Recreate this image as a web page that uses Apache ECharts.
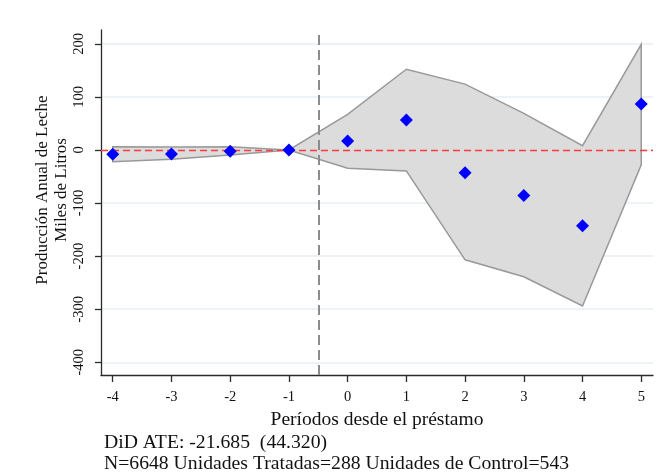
<!DOCTYPE html>
<html>
<head>
<meta charset="utf-8">
<script src="https://cdn.jsdelivr.net/npm/echarts@6/dist/echarts.min.js"></script>
<style>
    html, body { margin: 0; padding: 0; background: #fff; }
    #eventStudyChart { width: 662px; height: 474px; }
</style>
</head>
<body>
<div id="eventStudyChart"></div>
<script>
// values
const periods = [-4, -3, -2, -1, 0, 1, 2, 3, 4, 5]
const coef = [-8, -7.5, -2.5, 0, 17, 56.5, -43, -86, -143, 86.5]
const ciUpper = [6, 5.5, 6, 0, 67, 152, 124, 69, 8, 199]
const ciLower = [-22, -17.5, -9.5, 0, -34.5, -39.5, -207, -239, -294, -28]
const yTicks = [-400, -300, -200, -100, 0, 100, 200]
const xTicks = [-4, -3, -2, -1, 0, 1, 2, 3, 4, 5]
const treatmentLine = -0.5
const noteLines = ['DiD ATE: -21.685  (44.320)', 'N=6648 Unidades Tratadas=288 Unidades de Control=543']

const serif = '"Liberation Serif", "Times New Roman", serif'
const axisColor = '#2a2a2a'

const renderBand = (params, api) => {
    if (params.dataIndex !== 0) return
    const points = []
    periods.forEach((p, i) => points.push(api.coord([p, ciUpper[i]])))
    for (let i = periods.length - 1; i >= 0; i--) {
        points.push(api.coord([periods[i], ciLower[i]]))
    }
    return {
        type: 'polygon',
        shape: { points },
        style: { fill: '#dcdcdc', stroke: '#999', lineWidth: 1.5 }
    }
}

const options = {
    animation: false,
    grid: { left: 101, right: 9, top: 30, bottom: 99 },
    xAxis: {
        type: 'value',
        min: -4.2,
        max: 5.2,
        name: 'Períodos desde el préstamo',
        nameLocation: 'middle',
        nameGap: 31,
        nameTextStyle: { fontFamily: serif, fontSize: 19.5, color: '#111' },
        axisLine: { onZero: false, lineStyle: { color: axisColor, width: 1.3 } },
        axisTick: { show: true, length: 7, customValues: xTicks, lineStyle: { color: axisColor, width: 1.3 } },
        axisLabel: { customValues: xTicks, margin: 15, fontFamily: serif, fontSize: 14.5, color: '#111' },
        splitLine: { show: false }
    },
    yAxis: {
        type: 'value',
        min: -424,
        max: 226,
        axisLine: { show: true, onZero: false, lineStyle: { color: axisColor, width: 1.3 } },
        axisTick: { show: true, length: 6, customValues: yTicks, lineStyle: { color: axisColor, width: 1.3 } },
        axisLabel: { customValues: yTicks, rotate: 90, margin: 14, fontFamily: serif, fontSize: 14.5, color: '#111' },
        splitLine: { show: true, lineStyle: { color: '#e6eef3', width: 1.5 } }
    },
    graphic: [
        {
            type: 'text', x: 43, y: 190, rotation: Math.PI / 2,
            style: { text: 'Producción Anual de Leche', font: '17px ' + serif, fill: '#111', textAlign: 'center', textVerticalAlign: 'middle' }
        },
        {
            type: 'text', x: 62, y: 190, rotation: Math.PI / 2,
            style: { text: 'Miles de Litros', font: '17px ' + serif, fill: '#111', textAlign: 'center', textVerticalAlign: 'middle' }
        },
        {
            type: 'text', x: 104, y: 443,
            style: { text: noteLines[0], font: '19.7px ' + serif, fill: '#111', textAlign: 'left', textVerticalAlign: 'middle' }
        },
        {
            type: 'text', x: 104, y: 464,
            style: { text: noteLines[1], font: '19.7px ' + serif, fill: '#111', textAlign: 'left', textVerticalAlign: 'middle' }
        }
    ],
    series: [
        {
            type: 'custom',
            name: 'IC',
            renderItem: renderBand,
            data: periods.map((p, i) => [p, ciLower[i], ciUpper[i]]),
            encode: { x: 0, y: [1, 2] },
            clip: false,
            silent: true,
            z: 1
        },
        {
            type: 'scatter',
            name: 'Coeficiente',
            data: periods.map((p, i) => [p, coef[i]]),
            symbol: 'diamond',
            symbolSize: 13,
            itemStyle: { color: '#0000ff', opacity: 1 },
            z: 5,
            markLine: {
                silent: true,
                symbol: 'none',
                label: { show: false },
                data: [
                    { yAxis: 0, lineStyle: { color: '#ff3b3b', type: [7, 4], width: 1.3 } },
                    { xAxis: treatmentLine, lineStyle: { color: '#8c8c8c', type: [10, 5], width: 2 } }
                ]
            }
        }
    ]
}

const chartInstance = echarts.init(document.getElementById('eventStudyChart'))
chartInstance.setOption(options)
</script>
</body>
</html>
